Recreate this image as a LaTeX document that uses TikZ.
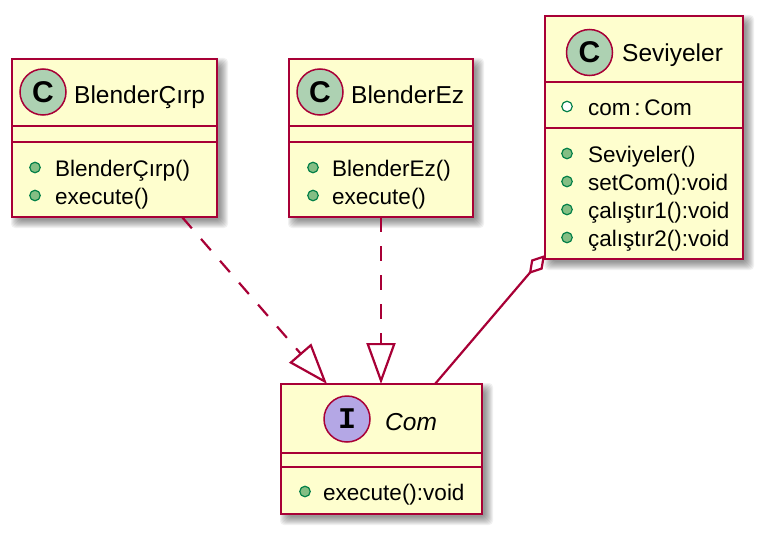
\documentclass[tikz,border=0pt]{standalone}
\usepackage{fontspec}
\setmainfont{Liberation Sans}
\newfontfamily\monofam{Liberation Mono}
\usetikzlibrary{arrows.meta,backgrounds}
\definecolor{umlborder}{HTML}{A80036}
\definecolor{umlfill}{HTML}{FEFECE}
\definecolor{cfill}{HTML}{ADD1B2}
\definecolor{ifill}{HTML}{B4A7E5}
\definecolor{icongreen}{HTML}{038048}
\definecolor{iconfill}{HTML}{84BE84}
\tikzset{
  box/.style={draw=umlborder, fill=umlfill, line width=2.8pt, inner sep=0pt, outer sep=0pt, anchor=north west},
  sepline/.style={draw=umlborder, line width=2.8pt},
  title/.style={anchor=base west, inner sep=0pt, font=\fontsize{24.5}{29}\selectfont},
  member/.style={anchor=base west, inner sep=0pt, font=\fontsize{22.5}{27}\selectfont},
  pubop/.style={circle, draw=icongreen, fill=iconfill, line width=1.2pt, minimum size=10.5pt, inner sep=0pt},
  pubattr/.style={circle, draw=icongreen, fill=white, line width=1.2pt, minimum size=10.5pt, inner sep=0pt},
  kindC/.style={circle, draw=umlborder, fill=cfill, line width=1.5pt, minimum size=46pt, inner sep=0pt, font=\fontsize{30}{30}\selectfont\bfseries},
  kindI/.style={circle, draw=umlborder, fill=ifill, line width=1.5pt, minimum size=46pt, inner sep=0pt, font=\fontsize{30}{30}\selectfont\monofam\bfseries},
  conn/.style={draw=umlborder, line width=2.2pt},
}
\newcommand\dropshadow[1]{%
  \foreach \r in {0,...,8}{%
    \fill[black, opacity=0.055, rounded corners=4pt]
      ([xshift={(\r-1)*1pt}, yshift={(1-\r)*1pt}]#1.north west) rectangle
      ([xshift={(11-\r)*1pt}, yshift={(\r-11)*1pt}]#1.south east);
  }%
}
\begin{document}
\begin{tikzpicture}[x=1pt,y=-1pt]
\useasboundingbox (0,0) rectangle (762,535);

% ---------- BlenderCirp ----------
\node[box, minimum width=205pt, minimum height=158pt] (bcirp) at (12,59) {};
\draw[sepline] ([yshift=-67pt]bcirp.north west) -- ([yshift=-67pt]bcirp.north east);
\draw[sepline] ([yshift=-83pt]bcirp.north west) -- ([yshift=-83pt]bcirp.north east);
\node[kindC] (bcirpC) at (43,92) {C};
\node[title] (bcirpT) at (74,103) {BlenderÇırp};
\node[pubop] (bcirpI1) at (35,167.5) {};
\node[member] (bcirpM1) at (55,176) {BlenderÇırp()};
\node[pubop] (bcirpI2) at (35,195.5) {};
\node[member] (bcirpM2) at (55,204) {execute()};

% ---------- BlenderEz ----------
\node[box, minimum width=184pt, minimum height=158pt] (bez) at (289,59) {};
\draw[sepline] ([yshift=-67pt]bez.north west) -- ([yshift=-67pt]bez.north east);
\draw[sepline] ([yshift=-83pt]bez.north west) -- ([yshift=-83pt]bez.north east);
\node[kindC] (bezC) at (320,92) {C};
\node[title] (bezT) at (351,103) {BlenderEz};
\node[pubop] (bezI1) at (313,167.5) {};
\node[member] (bezM1) at (332,176) {BlenderEz()};
\node[pubop] (bezI2) at (313,195.5) {};
\node[member] (bezM2) at (332,204) {execute()};

% ---------- Seviyeler ----------
\node[box, minimum width=198pt, minimum height=243pt] (sev) at (545,16) {};
\draw[sepline] ([yshift=-66pt]sev.north west) -- ([yshift=-66pt]sev.north east);
\draw[sepline] ([yshift=-112pt]sev.north west) -- ([yshift=-112pt]sev.north east);
\node[kindC] (sevC) at (589.5,52.5) {C};
\node[title] (sevT) at (622,61) {Seviyeler};
\node[pubattr] (sevA1I) at (567,106.5) {};
\node[member] (sevA1) at (588,115) {com\,:\,Com};
\node[pubop] (sevI1) at (567,153.5) {};
\node[member] (sevM1) at (588,162) {Seviyeler()};
\node[pubop] (sevI2) at (567,181.5) {};
\node[member] (sevM2) at (588,190) {setCom():void};
\node[pubop] (sevI3) at (567,209.5) {};
\node[member] (sevM3) at (588,218) {çalıştır1():void};
\node[pubop] (sevI4) at (567,237.5) {};
\node[member] (sevM4) at (588,246) {çalıştır2():void};

% ---------- Com ----------
\node[box, minimum width=201pt, minimum height=130pt] (com) at (281,384) {};
\draw[sepline] ([yshift=-69pt]com.north west) -- ([yshift=-69pt]com.north east);
\draw[sepline] ([yshift=-83pt]com.north west) -- ([yshift=-83pt]com.north east);
\node[kindI] (comC) at (347,419) {I};
\node[title, font=\fontsize{24.5}{29}\selectfont\itshape] (comT) at (385,430) {Com};
\node[pubop] (comI1) at (305,491.5) {};
\node[member] (comM1) at (323,500) {execute():void};

% ---------- shadows ----------
\begin{scope}[on background layer]
  \dropshadow{bcirp}
  \dropshadow{bez}
  \dropshadow{sev}
  \dropshadow{com}
\end{scope}

% ---------- connectors ----------
\draw[conn, dash pattern=on 15pt off 14pt,
      -{Triangle[open, length=41pt, width=29pt]}]
  ([xshift=170pt]bcirp.south west) -- ([xshift=46pt]com.north west);
\draw[conn, dash pattern=on 15pt off 14pt,
      -{Triangle[open, length=41pt, width=29pt]}]
  ([xshift=92pt]bez.south west) -- ([xshift=100pt]com.north west);
\draw[conn, {Diamond[open, length=25pt, width=15pt]}-]
  ([yshift=4pt]sev.south west) -- ([xshift=154pt]com.north west);
\end{tikzpicture}
\end{document}
